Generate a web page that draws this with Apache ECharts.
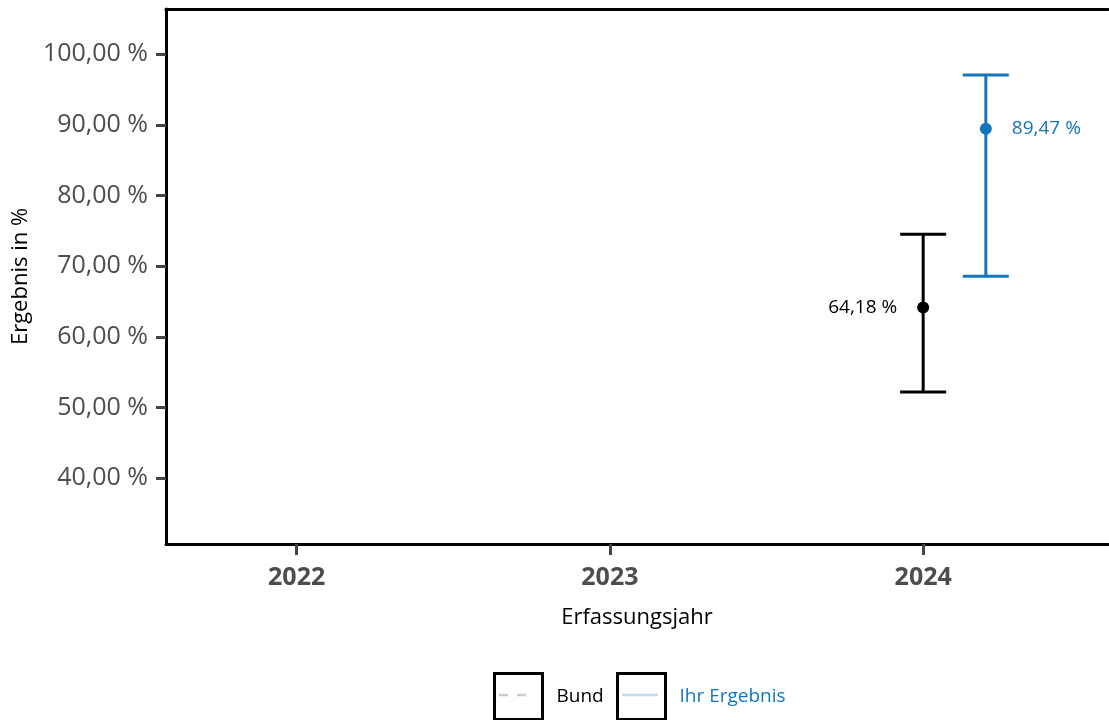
<!DOCTYPE html>
<html>
<head>
<meta charset="utf-8">
<script src="https://cdn.jsdelivr.net/npm/echarts@6/dist/echarts.min.js"></script>
<style>
  html, body { margin: 0; padding: 0; background: #fff; }
  #chart { width: 1109px; height: 720px; }
</style>
</head>
<body>
<div id="chart"></div>
<script>
// Survey years shown on the x axis and y tick values (percent)
const years = [2022, 2023, 2024];
const yTicks = [40, 50, 60, 70, 80, 90, 100];

// National reference ("Bund") with confidence interval
const bundYears = [2024];
const bundValues = [64.18];
const bundLower = [52.2];
const bundUpper = [74.55];

// Own result ("Ihr Ergebnis") with confidence interval
const ihrYears = [2024];
const ihrValues = [89.47];
const ihrLower = [68.6];
const ihrUpper = [97.05];

const BLUE = '#1575bb';
const FONT = '"Open Sans", "Noto Sans", sans-serif';
const IHR_SHIFT = 0.2; // horizontal dodge of own result next to the reference

const fmt = v => v.toFixed(2).replace('.', ',') + ' %';

function errorBar(color) {
  return function (params, api) {
    const x = api.value(0);
    const lo = api.coord([x, api.value(1)]);
    const hi = api.coord([x, api.value(2)]);
    const half = 23;
    const style = { stroke: color, lineWidth: 3 };
    return {
      type: 'group',
      children: [
        { type: 'line', shape: { x1: lo[0], y1: lo[1], x2: hi[0], y2: hi[1] }, style },
        { type: 'line', shape: { x1: hi[0] - half, y1: hi[1], x2: hi[0] + half, y2: hi[1] }, style },
        { type: 'line', shape: { x1: lo[0] - half, y1: lo[1], x2: lo[0] + half, y2: lo[1] }, style }
      ]
    };
  };
}

const chart = echarts.init(document.getElementById('chart'), null, { renderer: 'canvas' });

const axisLineStyle = { color: '#000', width: 3 };

chart.setOption({
  animation: false,
  backgroundColor: '#fff',
  textStyle: { fontFamily: FONT },
  grid: { left: 166, right: 1, top: 9, bottom: 176, containLabel: false, outerBoundsMode: 'none' },
  xAxis: [
    {
      type: 'value',
      min: 2021.583,
      max: 2024.59,
      position: 'bottom',
      axisLine: { show: true, onZero: false, lineStyle: axisLineStyle },
      axisTick: { show: true, customValues: years, length: 11, lineStyle: { color: '#444', width: 3 } },
      axisLabel: {
        customValues: years,
        margin: 21,
        color: '#4d4d4d',
        fontSize: 25,
        fontWeight: 'bold',
        fontFamily: FONT,
        formatter: v => String(v)
      },
      splitLine: { show: false },
      name: 'Erfassungsjahr',
      nameLocation: 'middle',
      nameGap: 63,
      nameTextStyle: { color: '#000', fontSize: 22, fontFamily: FONT }
    },
    {
      type: 'value',
      min: 2021.583,
      max: 2024.59,
      position: 'top',
      axisLine: { show: true, onZero: false, lineStyle: axisLineStyle },
      axisTick: { show: false },
      axisLabel: { show: false },
      splitLine: { show: false }
    }
  ],
  yAxis: {
    type: 'value',
    min: 30.71,
    max: 106.4,
    axisLine: { show: true, onZero: false, lineStyle: axisLineStyle },
    axisTick: { show: true, customValues: yTicks, length: 10, lineStyle: { color: '#444', width: 3 } },
    axisLabel: {
      customValues: yTicks,
      margin: 18,
      color: '#4d4d4d',
      fontSize: 25,
      fontFamily: FONT,
      formatter: v => fmt(v)
    },
    splitLine: { show: false },
    name: 'Ergebnis in %',
    nameLocation: 'middle',
    nameGap: 132,
    nameRotate: 90,
    nameTextStyle: { color: '#000', fontSize: 22, fontFamily: FONT }
  },
  legend: [
    {
      data: [{ name: 'Bund', textStyle: { color: '#000' } }],
      left: 493, top: 672, padding: 0,
      icon: 'rect', itemWidth: 48, itemHeight: 46,
      itemStyle: { color: '#fff', borderColor: '#000', borderWidth: 3, opacity: 1 },
      textStyle: { fontSize: 19, fontFamily: FONT, padding: [0, 0, 0, 9] },
      selectedMode: false
    },
    {
      data: [{ name: 'Ihr Ergebnis', textStyle: { color: BLUE } }],
      left: 616, top: 672, padding: 0,
      icon: 'rect', itemWidth: 48, itemHeight: 46,
      itemStyle: { color: '#fff', borderColor: '#000', borderWidth: 3, opacity: 1 },
      textStyle: { fontSize: 19, fontFamily: FONT, padding: [0, 0, 0, 9] },
      selectedMode: false
    }
  ],
  graphic: [
    // line samples inside the legend boxes
    { type: 'line', z: 100, shape: { x1: 499, y1: 695, x2: 535, y2: 695 },
      style: { stroke: '#cccccc', lineWidth: 2.5, lineDash: [9, 9] } },
    { type: 'line', z: 100, shape: { x1: 622, y1: 695, x2: 658, y2: 695 },
      style: { stroke: '#c6dced', lineWidth: 2.5 } }
  ],
  series: [
    {
      name: 'Bund',
      type: 'custom',
      renderItem: errorBar('#000'),
      data: bundYears.map((y, i) => [y, bundLower[i], bundUpper[i]]),
      z: 2
    },
    {
      name: 'Ihr Ergebnis',
      type: 'custom',
      renderItem: errorBar(BLUE),
      data: ihrYears.map((y, i) => [y + IHR_SHIFT, ihrLower[i], ihrUpper[i]]),
      z: 2
    },
    {
      name: 'Bund',
      type: 'scatter',
      symbol: 'circle',
      symbolSize: 12,
      itemStyle: { color: '#000', opacity: 1 },
      data: bundYears.map((y, i) => [y, bundValues[i]]),
      label: {
        show: true, position: 'left', distance: 20,
        color: '#000', fontSize: 19, fontFamily: FONT, opacity: 1,
        formatter: p => fmt(p.value[1])
      },
      z: 3
    },
    {
      name: 'Ihr Ergebnis',
      type: 'scatter',
      symbol: 'circle',
      symbolSize: 12,
      itemStyle: { color: BLUE, opacity: 1 },
      data: ihrYears.map((y, i) => [y + IHR_SHIFT, ihrValues[i]]),
      label: {
        show: true, position: 'right', distance: 20,
        color: BLUE, fontSize: 19, fontFamily: FONT, opacity: 1,
        formatter: p => fmt(p.value[1])
      },
      z: 3
    }
  ]
});
</script>
</body>
</html>
